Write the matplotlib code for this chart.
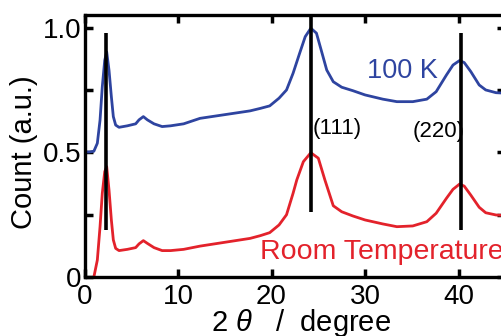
import matplotlib
matplotlib.use("Agg")
import matplotlib.pyplot as plt

# =====================================================
# DATA
# =====================================================

x_100k = [0, 0.5, 1.0, 1.37, 1.66, 1.9, 2.16, 2.37, 2.62, 2.87, 3.08, 3.33,
          3.69, 4.58, 5.47, 5.83, 6.29, 6.72, 7.43, 8.3, 9.2, 10.6, 12.35,
          17.7, 18.8, 19.8, 20.8, 21.6, 22.3, 23.0, 23.6, 24.2, 24.8, 25.3,
          25.9, 26.6, 27.5, 28.7, 30.0, 31.9, 33.4, 35.1, 36.6, 37.6, 38.7,
          39.4, 40.1, 40.6, 41.3, 42.2, 42.9, 44.0, 45.0]
y_100k = [0.502, 0.502, 0.505, 0.537, 0.63, 0.764, 0.87, 0.904, 0.83, 0.724,
          0.644, 0.61, 0.601, 0.607, 0.615, 0.631, 0.644, 0.631, 0.615, 0.604,
          0.607, 0.615, 0.637, 0.667, 0.677, 0.687, 0.718, 0.751, 0.818,
          0.898, 0.965, 0.999, 0.979, 0.912, 0.831, 0.784, 0.762, 0.748,
          0.731, 0.714, 0.704, 0.704, 0.714, 0.744, 0.811, 0.851, 0.869,
          0.861, 0.825, 0.771, 0.751, 0.740, 0.738]

x_rt = [1.0, 1.37, 1.66, 1.9, 2.16, 2.37, 2.62, 2.87, 3.08, 3.33, 3.69,
        4.58, 5.47, 5.83, 6.29, 6.72, 7.43, 8.3, 9.2, 10.6, 12.35, 17.7,
        18.8, 19.8, 20.8, 21.6, 22.3, 22.7, 23.4, 24.2, 25.0, 25.7, 26.6,
        27.5, 28.7, 30.0, 31.9, 33.4, 35.1, 36.6, 37.6, 38.7, 39.4, 40.1,
        40.6, 41.3, 42.2, 42.9, 44.0, 45.0]
y_rt = [0.0, 0.068, 0.202, 0.336, 0.423, 0.443, 0.349, 0.229, 0.149, 0.115,
        0.106, 0.111, 0.118, 0.133, 0.146, 0.135, 0.118, 0.106, 0.106, 0.111,
        0.124, 0.155, 0.166, 0.178, 0.209, 0.25, 0.336, 0.39, 0.463, 0.499,
        0.477, 0.39, 0.286, 0.262, 0.245, 0.229, 0.213, 0.202, 0.205, 0.222,
        0.256, 0.316, 0.352, 0.373, 0.365, 0.329, 0.28, 0.258, 0.249, 0.247]

peak_pos = [2.33, 24.2, 40.3]
peak_bottom = [0.19, 0.26, 0.19]
peak_top = [0.978, 1.06, 0.978]

peak_labels = ["(111)", "(220)"]
peak_label_x = [24.4, 35.1]
peak_label_y = [0.573, 0.563]

x_ticks = [0, 10, 20, 30, 40]
y_ticks = [0, 0.25, 0.5, 0.75, 1.0]
y_tick_labels = ["0", "", "0.5", "", "1.0"]

BLUE = "#2E44A0"
RED = "#E3222B"

# =====================================================
# STYLE
# =====================================================

plt.rcParams["font.family"] = ["Liberation Sans", "DejaVu Sans"]
plt.rcParams["mathtext.fontset"] = "custom"
plt.rcParams["mathtext.rm"] = "Liberation Sans"
plt.rcParams["mathtext.it"] = "Liberation Sans:italic"

# =====================================================
# FIGURE
# =====================================================

fig = plt.figure(figsize=(5.01, 3.36), dpi=100)
ax = fig.add_axes([0.1687, 0.1756, 0.840, 0.7798])

ax.plot(x_100k, y_100k, color=BLUE, lw=2.0, zorder=2)
ax.plot(x_rt, y_rt, color=RED, lw=2.0, zorder=2)

ax.vlines(peak_pos, peak_bottom, peak_top, color="black", lw=2.6, zorder=3)

ax.text(30.2, 0.80, "100 K", color=BLUE, fontsize=19.5,
        ha="left", va="baseline")
ax.text(18.8, 0.072, "Room Temperature", color=RED, fontsize=20.5,
        ha="left", va="baseline", clip_on=False)

for lab, lx, ly in zip(peak_labels, peak_label_x, peak_label_y):
    ax.text(lx, ly, lab, color="black", fontsize=16,
            ha="left", va="baseline")

ax.set_xlim(0, 45)
ax.set_ylim(0, 1.052)

ax.set_xticks(x_ticks)
ax.set_yticks(y_ticks)
ax.set_yticklabels(y_tick_labels)

ax.tick_params(direction="in", length=6, width=2.5,
               top=True, right=True, labelsize=20)
ax.tick_params(axis="x", pad=5)
ax.tick_params(axis="y", pad=2)

for side in ["left", "bottom", "top", "right"]:
    ax.spines[side].set_linewidth(2.4)

ax.set_xlabel(r"2 $\it{\theta}$   /  degree", fontsize=21,
              va="baseline", ha="center")
ax.xaxis.set_label_coords(0.514, -0.205)

ax.set_ylabel("Count (a.u.)", fontsize=21, va="center", ha="center")
ax.yaxis.set_label_coords(-0.1438, 0.477)

fig.savefig("out.png", dpi=100)
plt.close(fig)
